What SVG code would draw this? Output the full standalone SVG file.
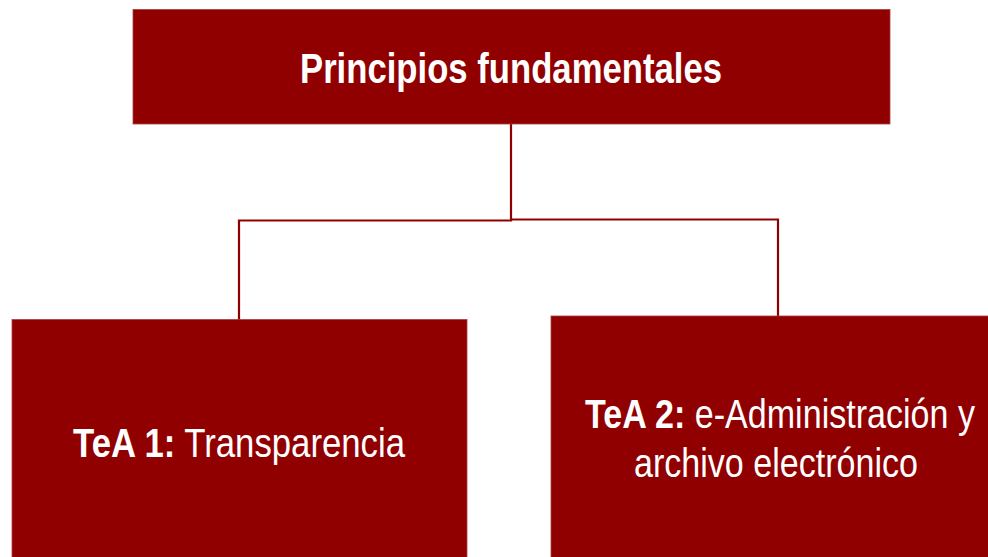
<svg xmlns="http://www.w3.org/2000/svg" width="988" height="557" viewBox="0 0 988 557">
<style>
.box{fill:#900000;stroke:#a84040;stroke-width:0.8}
.conn{fill:none;stroke:#900000;stroke-width:2.2}
.t{fill:#ffffff;font-family:"Liberation Sans Narrow","Arial Narrow","Liberation Sans",Arial,sans-serif}
.b{font-weight:bold}
</style>
<rect width="988" height="557" fill="#ffffff"/>
<g id="connectors">
<polyline class="conn" points="511,124 511,220.5 239,220.5 239,320"/>
<polyline class="conn" points="511,219.5 778,219.5 778,316"/>
</g>
<g id="node-principios">
<rect class="box" x="133" y="9.5" width="757" height="114.5"/>
<text class="t b" x="300" y="83" font-size="42" textLength="422" lengthAdjust="spacingAndGlyphs">Principios fundamentales</text>
</g>
<g id="node-tea1">
<rect class="box" x="12" y="319.5" width="455" height="250"/>
<text class="t" x="73" y="457" font-size="40" textLength="332" lengthAdjust="spacingAndGlyphs"><tspan class="b">TeA 1:</tspan> Transparencia</text>
</g>
<g id="node-tea2">
<rect class="box" x="551" y="316" width="450" height="260"/>
<text class="t" x="585" y="428" font-size="40" textLength="390" lengthAdjust="spacingAndGlyphs"><tspan class="b">TeA 2:</tspan> e-Administración y</text>
<text class="t" x="634" y="477" font-size="40" textLength="284" lengthAdjust="spacingAndGlyphs">archivo electrónico</text>
</g>
</svg>
